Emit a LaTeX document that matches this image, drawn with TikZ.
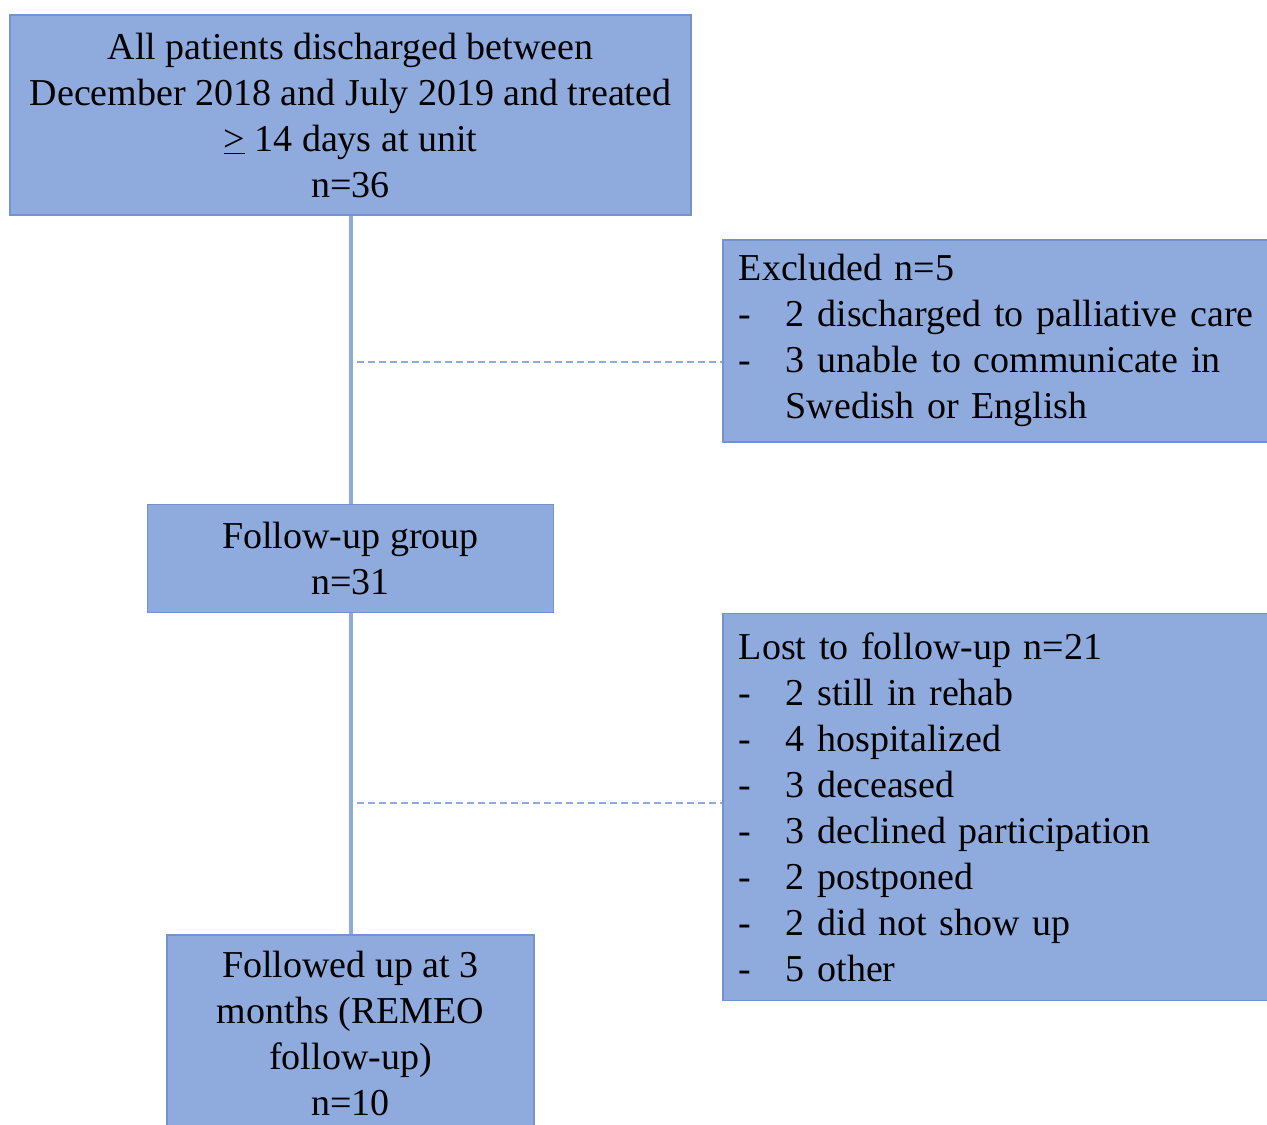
\documentclass[tikz,border=0pt]{standalone}
\usepackage{fontspec}
\setmainfont{Liberation Serif}
\usetikzlibrary{positioning}
\definecolor{boxfill}{HTML}{8FAADC}
\definecolor{boxline}{HTML}{7293CE}
\newcommand{\dashitem}[1]{\makebox[23.5pt][l]{-}#1}

\begin{document}
\begin{tikzpicture}[x=0.5pt, y=-0.5pt,
  box/.style={draw=boxline, fill=boxfill, line width=0.8pt, align=center,
    inner sep=0pt, font=\fontsize{19}{23}\selectfont},
  sidebox/.style={box, align=left, text width=264pt, inner xsep=8pt},
  flow/.style={draw=boxfill, line width=2pt},
  skip/.style={draw=boxfill, line width=0.6pt, dash pattern=on 3.5pt off 2pt}]
  \useasboundingbox (0,0) rectangle (1267,1124);
  % main flow
  \node[box, minimum width=340.5pt, minimum height=100pt](all) at (350.5,115)
    {All patients discharged between\\December 2018 and July 2019 and treated\\\underline{>} 14 days at unit\\n=36};
  \node[box, minimum width=203pt, minimum height=54pt, below=144pt of all](group)
    {Follow-up group\\n=31};
  \node[box, minimum width=183.5pt, minimum height=98pt, below=160.5pt of group](final)
    {Followed up at 3\\months (REMEO\\follow-up)\\n=10};
  % side boxes
  \node[sidebox, minimum height=101pt, anchor=north west](excl) at (722,239)
    {Excluded n=5\\\dashitem{2 discharged to palliative care}\\\dashitem{3 unable to communicate in}\\\hspace*{23.5pt}Swedish or English};
  \node[sidebox, minimum height=193.5pt, below=85pt of excl](lost)
    {Lost to follow-up n=21\\\dashitem{2 still in rehab}\\\dashitem{4 hospitalized}\\\dashitem{3 deceased}\\\dashitem{3 declined participation}\\\dashitem{2 postponed}\\\dashitem{2 did not show up}\\\dashitem{5 other}};

  \coordinate (d1) at (357,362);
  \coordinate (d2) at (357,803);

  \draw[flow] (all) -- (group);
  \draw[flow] (group) -- (final);
  \draw[skip] (d1) -- (d1 -| excl.west);
  \draw[skip] (d2) -- (d2 -| lost.west);
\end{tikzpicture}
\end{document}
